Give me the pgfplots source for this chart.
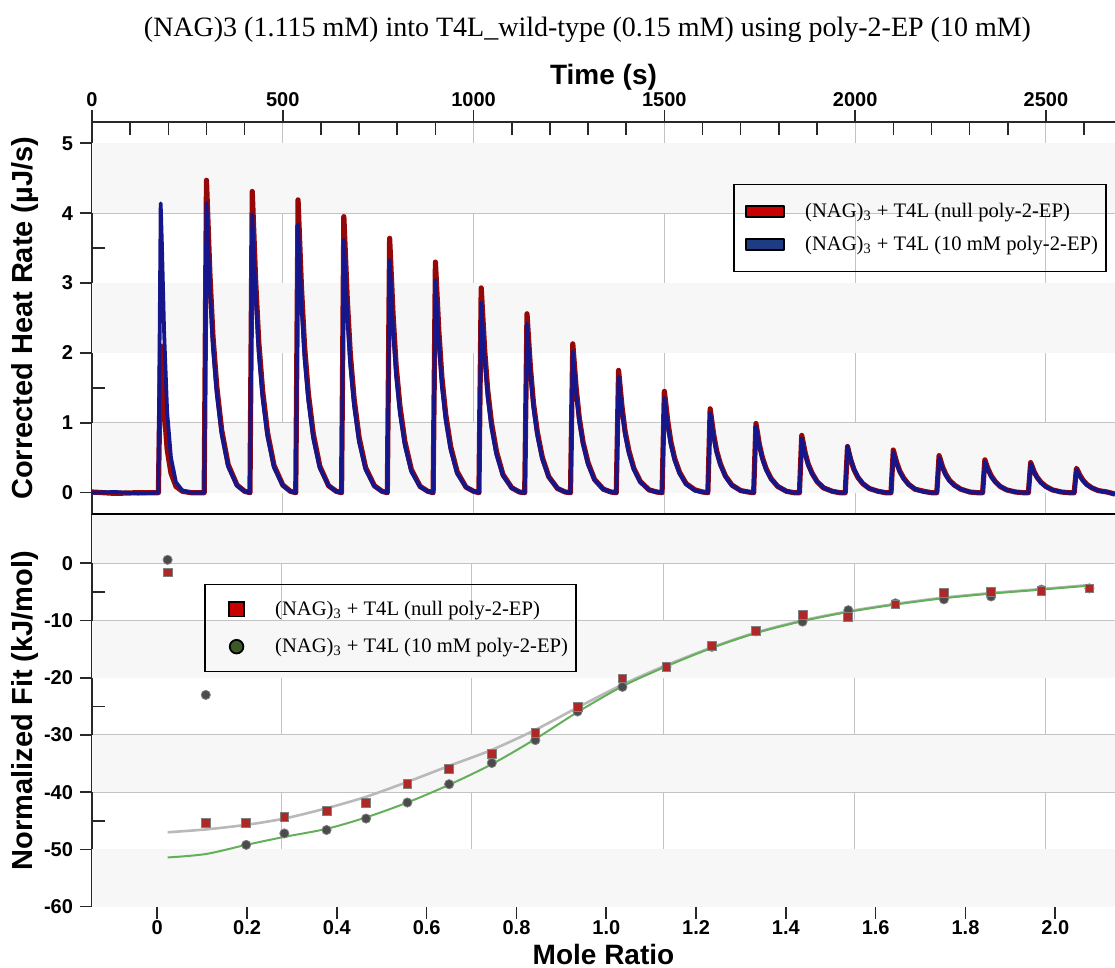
\documentclass[border=0pt]{standalone}
\usepackage{fontspec}
\setmainfont{Liberation Serif}
\setsansfont{Liberation Sans}
\usepackage{pgfplots}
\usepackage{pgfplotstable}
\pgfplotsset{compat=1.18}

\definecolor{itcred}{RGB}{150,8,8}
\definecolor{itcblue}{RGB}{22,22,140}
\definecolor{legred}{RGB}{200,0,0}
\definecolor{legblue}{RGB}{30,60,130}
\definecolor{leggreen}{RGB}{60,90,40}
\definecolor{band}{RGB}{247,247,247}
\definecolor{gridc}{RGB}{195,195,195}
\definecolor{fitgray}{RGB}{185,185,185}
\definecolor{fitgreen}{RGB}{100,175,90}
\definecolor{sqred}{RGB}{175,40,40}
\definecolor{dotgray}{RGB}{75,75,75}
\definecolor{axc}{RGB}{40,40,40}

% thermogram: time, null poly-2-EP, 10 mM poly-2-EP
\pgfplotstableread{
t r b
0 0.01 0.00
60 -0.01 0.01
120 0.00 -0.01
174 0 0
180 2.10 4.14
183 1.80 3.60
189 1.20 2.30
197 0.62 1.15
207 0.28 0.50
220 0.09 0.15
237 0.02 0.03
260 0 0
280 0 0
294 0 0
300 4.47 4.14
303 4.02 3.73
309 3.13 2.90
317 2.24 2.07
327 1.52 1.41
340 0.89 0.83
357 0.40 0.37
380 0.11 0.10
400 0.02 0.02
414 0 0
420 4.31 3.98
423 3.88 3.58
429 3.02 2.79
437 2.16 1.99
447 1.47 1.35
460 0.86 0.80
477 0.39 0.36
500 0.11 0.10
520 0.02 0.02
534 0 0
540 4.19 3.84
543 3.77 3.46
549 2.93 2.69
557 2.10 1.92
567 1.42 1.31
580 0.84 0.77
597 0.38 0.35
620 0.10 0.10
640 0.02 0.02
654 0 0
660 3.95 3.62
663 3.56 3.26
669 2.77 2.53
677 1.98 1.81
687 1.34 1.23
700 0.79 0.72
717 0.36 0.33
740 0.10 0.09
760 0.02 0.02
774 0 0
780 3.64 3.33
783 3.28 3.00
789 2.55 2.33
797 1.82 1.67
807 1.24 1.13
820 0.73 0.67
837 0.33 0.30
860 0.09 0.08
880 0.02 0.02
894 0 0
900 3.30 3.04
903 2.97 2.74
909 2.31 2.13
917 1.65 1.52
927 1.12 1.03
940 0.66 0.61
957 0.30 0.27
980 0.08 0.08
1000 0.02 0.02
1014 0 0
1020 2.93 2.72
1023 2.64 2.45
1029 2.05 1.90
1037 1.47 1.36
1047 1.00 0.92
1060 0.59 0.54
1077 0.26 0.24
1100 0.07 0.07
1120 0.01 0.01
1134 0 0
1140 2.56 2.42
1143 2.30 2.18
1149 1.79 1.69
1157 1.28 1.21
1167 0.87 0.82
1180 0.51 0.48
1197 0.23 0.22
1220 0.06 0.06
1240 0.01 0.01
1254 0 0
1260 2.13 2.02
1263 1.92 1.82
1269 1.49 1.41
1277 1.07 1.01
1287 0.72 0.69
1300 0.43 0.40
1317 0.19 0.18
1340 0.05 0.05
1360 0.01 0.01
1374 0 0
1380 1.75 1.66
1383 1.58 1.49
1389 1.23 1.16
1397 0.88 0.83
1407 0.60 0.56
1420 0.35 0.33
1437 0.16 0.15
1460 0.04 0.04
1480 0.01 0.01
1494 0 0
1500 1.45 1.36
1503 1.31 1.22
1509 1.02 0.95
1517 0.73 0.68
1527 0.49 0.46
1540 0.29 0.27
1557 0.13 0.12
1580 0.04 0.03
1600 0.01 0.01
1614 0 0
1620 1.20 1.14
1623 1.08 1.03
1629 0.84 0.80
1637 0.60 0.57
1647 0.41 0.39
1660 0.24 0.23
1677 0.11 0.10
1700 0.03 0.03
1720 0.01 0.01
1734 0 0
1740 0.99 0.95
1743 0.89 0.86
1749 0.69 0.67
1757 0.50 0.48
1767 0.34 0.32
1780 0.20 0.19
1797 0.09 0.09
1820 0.02 0.02
1840 0 0
1854 0 0
1860 0.82 0.78
1863 0.74 0.70
1869 0.57 0.55
1877 0.41 0.39
1887 0.28 0.27
1900 0.16 0.16
1917 0.07 0.07
1940 0.02 0.02
1960 0 0
1974 0 0
1980 0.66 0.67
1983 0.59 0.60
1989 0.46 0.47
1997 0.33 0.34
2007 0.22 0.23
2020 0.13 0.13
2037 0.06 0.06
2060 0.02 0.02
2080 0 0
2094 0 0
2100 0.61 0.58
2103 0.55 0.52
2109 0.43 0.41
2117 0.31 0.29
2127 0.21 0.20
2140 0.12 0.12
2157 0.05 0.05
2180 0.02 0.01
2200 0 0
2214 0 0
2220 0.53 0.50
2223 0.48 0.45
2229 0.37 0.35
2237 0.27 0.25
2247 0.18 0.17
2260 0.11 0.10
2277 0.05 0.05
2300 0.01 0.01
2320 0 0
2334 0 0
2340 0.47 0.44
2343 0.42 0.40
2349 0.33 0.31
2357 0.24 0.22
2367 0.16 0.15
2380 0.09 0.09
2397 0.04 0.04
2420 0.01 0.01
2440 0 0
2454 0 0
2460 0.43 0.41
2463 0.39 0.37
2469 0.30 0.29
2477 0.22 0.21
2487 0.15 0.14
2500 0.09 0.08
2517 0.04 0.04
2540 0.01 0.01
2560 0 0
2574 0 0
2580 0.35 0.33
2583 0.32 0.30
2589 0.25 0.23
2597 0.18 0.17
2607 0.12 0.11
2620 0.07 0.07
2637 0.03 0.03
2660 0.01 0.01
2681 -0.02 -0.02
}\heat

% integrated heats and fits
\pgfplotstableread{
x sq ci fg fn
0.023 -1.6 0.6 -47.0 -51.4
0.108 -45.3 -23.0 -46.5 -50.8
0.198 -45.3 -49.2 -45.7 -49.2
0.283 -44.3 -47.2 -44.6 -47.8
0.377 -43.2 -46.6 -42.8 -46.4
0.465 -41.8 -44.6 -40.8 -44.4
0.557 -38.6 -41.8 -38.2 -41.8
0.650 -35.9 -38.6 -35.4 -38.7
0.745 -33.3 -34.9 -32.6 -35.1
0.842 -29.7 -30.9 -29.1 -30.7
0.936 -25.1 -25.9 -25.2 -26.0
1.036 -20.1 -21.6 -21.2 -21.5
1.134 -18.1 -18.1 -17.8 -18.0
1.235 -14.4 -14.6 -14.7 -14.8
1.333 -11.8 -11.9 -12.1 -12.2
1.437 -9.0 -10.2 -10.0 -10.1
1.539 -9.3 -8.2 -8.4 -8.5
1.644 -7.2 -7.0 -7.1 -7.2
1.752 -5.2 -6.3 -6.0 -6.1
1.857 -5.0 -5.8 -5.2 -5.3
1.969 -4.8 -4.6 -4.5 -4.6
2.076 -4.4 -4.4 -3.8 -3.9
}\fit

\pgfplotsset{itc/.style={
  set layers, scale only axis, width=511.5pt,
  axis line style={-, axc, line width=0.8pt},
  tick style={axc, line width=0.8pt},
  tick align=outside, major tick length=6pt, minor tick length=-6.5pt,
  ticklabel style={font=\sffamily\bfseries\fontsize{10}{12}\selectfont, text=black},
  x label style={font=\sffamily\bfseries\fontsize{14}{16}\selectfont},
  y label style={font=\sffamily\bfseries\fontsize{14.5}{17}\selectfont},
  grid style={gridc, line width=0.5pt},
  legend cell align=left,
}}

\begin{document}
\begin{tikzpicture}

\begin{axis}[itc, name=top, at={(0,196.2pt)}, anchor=south west, height=196pt,
  xmin=0, xmax=2681, ymin=-0.309, ymax=5.30,
  axis x line*=top, axis y line*=left,
  xtick={0,500,1000,1500,2000,2500}, xticklabels={0,500,1000,1500,2000,2500},
  minor xtick={100,200,300,400,600,700,800,900,1100,1200,1300,1400,1600,1700,1800,1900,2100,2200,2300,2400,2600},
  ytick={0,1,2,3,4,5}, yticklabels={0,1,2,3,4,5},
  minor ytick={0.5,1.5,2.5,3.5,4.5},
  xticklabel style={yshift=-1.5pt},
  xmajorgrids, ymajorgrids,
  xlabel={Time (s)}, ylabel={Corrected Heat Rate (µJ/s)},
  x label style={at={(axis description cs:0.5,1.115)}, anchor=center},
  y label style={at={(axis description cs:-0.0655,0.5)}, anchor=center},
  legend style={at={(0.6266,0.8426)}, anchor=north west, draw=black, line width=0.75pt,
    fill=none, inner xsep=2pt, inner ysep=7pt, row sep=4pt,
    font=\fontsize{10.3}{12}\selectfont},
]
\fill[band, on layer=axis background] (axis cs:0,0) rectangle (axis cs:2681,1);
\fill[band, on layer=axis background] (axis cs:0,2) rectangle (axis cs:2681,3);
\fill[band, on layer=axis background] (axis cs:0,4) rectangle (axis cs:2681,5);
\addplot[itcred, line width=2.6pt, line join=round,
  legend image code/.code={\path[draw=none,fill=none] (-4pt,0) -- (27.7pt,0);
    \draw[fill=legred, draw=black, line width=0.9pt] (0pt,-2.75pt) rectangle (19pt,2.75pt);}]
  table[x=t, y=r] {\heat};
\addlegendentry{(NAG)\textsubscript{3} + T4L (null poly-2-EP)}
\addplot[itcblue, line width=1.9pt, line join=round,
  legend image code/.code={\path[draw=none,fill=none] (-4pt,0) -- (27.7pt,0);
    \draw[fill=legblue, draw=black, line width=0.9pt] (0pt,-2.75pt) rectangle (19pt,2.75pt);}]
  table[x=t, y=b] {\heat};
\addlegendentry{(NAG)\textsubscript{3} + T4L (10 mM poly-2-EP)}
\end{axis}

\begin{axis}[itc, name=bot, at={(0,0)}, anchor=south west, height=196.2pt,
  xmin=-0.1454, xmax=2.133, ymin=-60, ymax=8.56,
  axis x line*=bottom, axis y line*=left,
  xtick={0,0.2,0.4,0.6,0.8,1.0,1.2,1.4,1.6,1.8,2.0},
  xticklabels={0,0.2,0.4,0.6,0.8,1.0,1.2,1.4,1.6,1.8,2.0},
  minor xtick={-0.1,-0.05,0,0.05,0.1,0.15,0.2,0.25,0.3,0.35,0.4,0.45,0.5,0.55,0.6,0.65,0.7,0.75,0.8,0.85,0.9,0.95,1.0,1.05,1.1,1.15,1.2,1.25,1.3,1.35,1.4,1.45,1.5,1.55,1.6,1.65,1.7,1.75,1.8,1.85,1.9,1.95,2.0,2.05,2.1},
  xticklabel style={yshift=2.5pt},
  ytick={-60,-50,-40,-30,-20,-10,0}, yticklabels={-60,-50,-40,-30,-20,-10,0},
  minor ytick={-55,-45,-35,-25,-15,-5,5},
  ymajorgrids,
  extra x ticks={0.2777,0.7009,1.1274,1.5528,1.978}, extra x tick labels={},
  extra x tick style={grid=major, major tick length=0pt},
  xlabel={Mole Ratio}, ylabel={Normalized Fit (kJ/mol)},
  x label style={at={(axis description cs:0.5,-0.1223)}, anchor=center},
  y label style={at={(axis description cs:-0.0655,0.5)}, anchor=center},
  legend style={at={(0.1095,0.8224)}, anchor=north west, draw=black, line width=0.75pt,
    fill=none, inner xsep=2pt, inner ysep=6pt, row sep=6pt,
    font=\fontsize{10.3}{12}\selectfont},
  reverse legend,
]
\fill[band, on layer=axis background] (axis cs:-0.1454,-60) rectangle (axis cs:2.133,-50);
\fill[band, on layer=axis background] (axis cs:-0.1454,-40) rectangle (axis cs:2.133,-30);
\fill[band, on layer=axis background] (axis cs:-0.1454,-20) rectangle (axis cs:2.133,-10);
\fill[band, on layer=axis background] (axis cs:-0.1454,0) rectangle (axis cs:2.133,8.56);
\addplot[fitgray, line width=1.3pt, smooth, forget plot] table[x=x, y=fg] {\fit};
\addplot[fitgreen, line width=1.0pt, smooth, forget plot] table[x=x, y=fn] {\fit};
\addplot[only marks, mark=*, mark size=2.3pt, mark options={fill=dotgray, draw=gray, line width=0.4pt},
  legend image code/.code={\path[draw=none,fill=none] (-13.9pt,0) -- (17.3pt,0);
    \draw[fill=leggreen, draw=black, line width=0.9pt] (0pt,0pt) circle (3.4pt);}]
  table[x=x, y=ci] {\fit};
\addlegendentry{(NAG)\textsubscript{3} + T4L (10 mM poly-2-EP)}
\addplot[only marks, mark=square*, mark size=2.2pt, mark options={fill=sqred, draw=gray, line width=0.4pt},
  legend image code/.code={\path[draw=none,fill=none] (-13.9pt,0) -- (17.3pt,0);
    \draw[fill=legred, draw=black, line width=0.9pt] (-3.6pt,-3.6pt) rectangle (3.6pt,3.6pt);}]
  table[x=x, y=sq] {\fit};
\addlegendentry{(NAG)\textsubscript{3} + T4L (null poly-2-EP)}
\end{axis}

\draw[black, line width=0.8pt] (top.south west) -- (top.south east);
\node[font=\fontsize{14}{16}\selectfont] at (247.75pt,438.35pt)
  {(NAG)3 (1.115 mM) into T4L\_wild-type (0.15 mM) using poly-2-EP (10 mM)};
\pgfresetboundingbox
\useasboundingbox (-46pt,-30.65pt) rectangle (511.5pt,453.35pt);
\end{tikzpicture}
\end{document}
